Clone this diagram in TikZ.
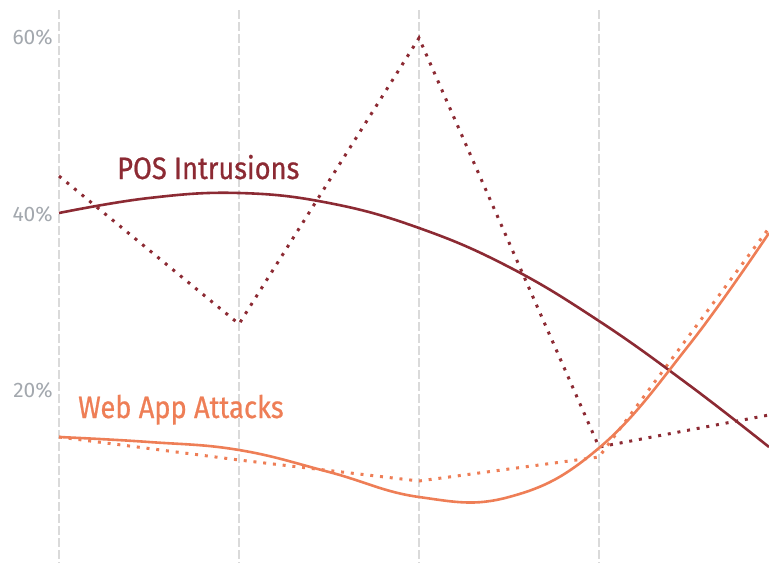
\documentclass[tikz,border=0pt]{standalone}
\usepackage{fontspec}
\setmainfont{Fira Sans}
\newfontfamily\labfont[FakeStretch=0.88,FakeBold=0.7]{Fira Sans}
\definecolor{posred}{HTML}{8C2A33}
\definecolor{weborange}{HTML}{EE7E56}
\definecolor{gridgray}{HTML}{DADADA}
\definecolor{ticktext}{HTML}{A3A8AE}
\begin{document}
\begin{tikzpicture}[x=1pt,y=-1pt,
  gridline/.style={draw=gridgray,line width=1.3pt,dash pattern=on 9pt off 3pt},
  dotline/.style={line width=3pt,dash pattern=on 3pt off 6.8pt},
  solidline/.style={line width=2.6pt},
  ticklab/.style={anchor=base east,inner sep=0pt,text=ticktext,font=\fontsize{21}{21}\selectfont},
  serieslab/.style={anchor=base west,inner sep=0pt,font=\labfont\fontsize{31}{31}\selectfont}]
\useasboundingbox (0,0) rectangle (769,563);
% grid
\foreach \gx/\nm in {59/g1,239/g2,419/g3,599/g4}{
  \coordinate (\nm t) at (\gx,10);
  \coordinate (\nm b) at (\gx,563);
  \draw[gridline] (\nm t) -- (\nm b);
}
% tick labels
\node[ticklab] (t60) at (53,44) {60\%};
\node[ticklab] (t40) at (53,221) {40\%};
\node[ticklab] (t20) at (53,397) {20\%};
% POS dotted
\coordinate (p1) at (59,176);
\coordinate (p2) at (239,324);
\coordinate (p3) at (419,38);
\coordinate (p4) at (599,447);
\coordinate (p5) at (769,415);
\draw[dotline,posred] (p1) -- (p2) -- (p3) -- (p4) -- (p5);
% Web dotted
\coordinate (w1) at (59,437);
\coordinate (w2) at (239,460);
\coordinate (w3) at (419,481);
\coordinate (w4) at (599,457);
\coordinate (w5) at (769,228);
\draw[dotline,weborange] (w1) -- (w2) -- (w3) -- (w4) -- (w5);
% POS solid
\draw[solidline,posred] plot[smooth,tension=0.7] coordinates {(59,213) (149,198) (239,193) (329,203) (419,228) (509,267) (599,321) (689,385) (769,447)};
% Web solid
\draw[solidline,weborange] plot[smooth,tension=0.7] coordinates {(59,437) (149,442) (239,450) (329,472) (419,497) (509,497) (599,448) (689,345) (769,233)};
% labels
\node[serieslab,text=posred] (poslab) at (117,179) {POS Intrusions};
\node[serieslab,text=weborange] (weblab) at (78,418) {Web App Attacks};
\end{tikzpicture}
\end{document}
